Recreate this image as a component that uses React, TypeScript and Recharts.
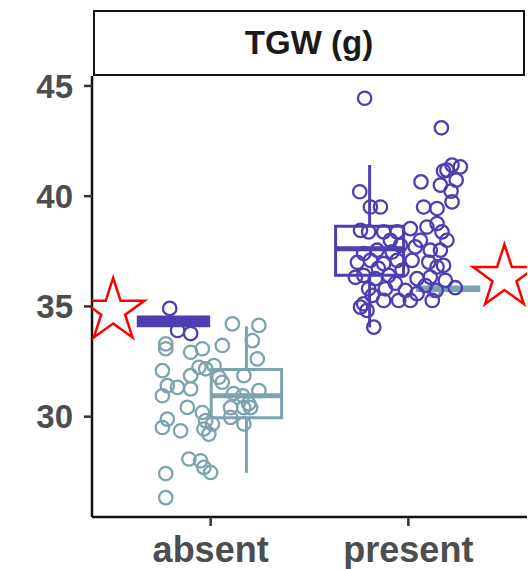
import React from 'react';
import {
  ComposedChart,
  Scatter,
  XAxis,
  YAxis,
  ReferenceArea,
  ReferenceLine,
} from 'recharts';

// categories + value ranges
const categories = ['absent', 'present'];
const yTicks = [30, 35, 40, 45];
const stripTitle = 'TGW (g)';

const PURPLE = '#4D3EB2';
const TEAL = '#7DA3AF';

// box stats: group position, half width, min, q1, median, q3, max
const purpleBoxes = [
  { x: 0.812, half: 0.178, min: 34.1, q1: 34.12, median: 34.3, q3: 34.52, max: 34.52 },
  { x: 1.804, half: 0.172, min: 34.05, q1: 36.41, median: 37.62, q3: 38.64, max: 41.41 },
];
const tealBoxes = [
  { x: 1.181, half: 0.178, min: 27.45, q1: 29.95, median: 30.95, q3: 32.14, max: 34.1 },
  { x: 2.201, half: 0.155, min: 35.72, q1: 35.72, median: 35.8, q3: 35.88, max: 35.88 },
];

// jittered observations
const tealPoints = [
  { x: 1.110, y: 34.21 }, { x: 1.244, y: 34.14 }, { x: 1.211, y: 33.45 }, { x: 0.773, y: 33.30 },
  { x: 0.773, y: 33.08 }, { x: 0.899, y: 32.92 }, { x: 0.958, y: 33.08 }, { x: 1.059, y: 33.23 },
  { x: 1.236, y: 32.62 }, { x: 0.756, y: 32.09 }, { x: 0.941, y: 32.24 }, { x: 0.975, y: 32.17 },
  { x: 1.017, y: 32.32 }, { x: 0.899, y: 31.86 }, { x: 1.042, y: 31.79 }, { x: 0.781, y: 31.41 },
  { x: 0.832, y: 31.33 }, { x: 0.899, y: 31.26 }, { x: 0.756, y: 30.95 }, { x: 1.059, y: 31.56 },
  { x: 1.168, y: 31.86 }, { x: 1.244, y: 31.18 }, { x: 1.116, y: 31.05 }, { x: 1.162, y: 30.95 },
  { x: 1.192, y: 30.59 }, { x: 1.101, y: 30.41 }, { x: 1.167, y: 30.41 }, { x: 1.202, y: 30.41 },
  { x: 0.882, y: 30.42 }, { x: 0.958, y: 30.19 }, { x: 0.781, y: 29.89 }, { x: 0.756, y: 29.51 },
  { x: 0.848, y: 29.36 }, { x: 0.975, y: 29.82 }, { x: 0.966, y: 29.44 }, { x: 0.991, y: 29.21 },
  { x: 1.009, y: 29.67 }, { x: 1.101, y: 29.97 }, { x: 1.168, y: 29.67 }, { x: 0.890, y: 28.08 },
  { x: 0.949, y: 28.00 }, { x: 0.966, y: 27.70 }, { x: 1.000, y: 27.47 }, { x: 0.773, y: 27.42 },
  { x: 0.773, y: 26.33 }, { x: 2.128, y: 35.73 },
];

const purplePoints = [
  { x: 0.793, y: 34.91 }, { x: 0.833, y: 33.91 }, { x: 0.899, y: 33.77 },
  { x: 1.779, y: 44.44 }, { x: 2.167, y: 43.10 }, { x: 2.221, y: 41.41 }, { x: 2.263, y: 41.33 },
  { x: 2.195, y: 41.18 }, { x: 2.178, y: 41.14 }, { x: 2.242, y: 40.73 }, { x: 2.162, y: 40.50 },
  { x: 2.216, y: 40.23 }, { x: 2.221, y: 39.74 }, { x: 2.064, y: 40.65 }, { x: 1.754, y: 40.20 },
  { x: 1.808, y: 39.51 }, { x: 1.859, y: 39.51 }, { x: 2.077, y: 39.51 }, { x: 2.145, y: 39.44 },
  { x: 1.758, y: 38.45 }, { x: 1.799, y: 38.38 }, { x: 1.875, y: 38.38 }, { x: 1.943, y: 38.38 },
  { x: 2.010, y: 38.53 }, { x: 2.094, y: 38.60 }, { x: 2.145, y: 38.76 }, { x: 2.170, y: 38.38 },
  { x: 2.195, y: 38.00 }, { x: 2.061, y: 38.00 }, { x: 2.035, y: 37.70 }, { x: 2.111, y: 37.55 },
  { x: 2.162, y: 37.55 }, { x: 1.842, y: 37.55 }, { x: 1.918, y: 37.47 }, { x: 1.774, y: 37.40 },
  { x: 1.808, y: 37.09 }, { x: 1.875, y: 36.94 }, { x: 1.943, y: 37.09 }, { x: 2.019, y: 37.09 },
  { x: 2.103, y: 37.01 }, { x: 2.178, y: 36.86 }, { x: 2.145, y: 36.79 }, { x: 1.774, y: 36.41 },
  { x: 1.833, y: 36.26 }, { x: 1.901, y: 36.41 }, { x: 1.968, y: 36.64 }, { x: 2.044, y: 36.26 },
  { x: 2.111, y: 36.33 }, { x: 1.799, y: 35.80 }, { x: 1.884, y: 35.80 }, { x: 1.985, y: 35.73 },
  { x: 2.044, y: 35.58 }, { x: 1.774, y: 35.12 }, { x: 1.875, y: 35.27 }, { x: 1.951, y: 35.27 },
  { x: 2.010, y: 35.27 }, { x: 1.758, y: 34.97 }, { x: 1.791, y: 34.82 }, { x: 1.825, y: 34.06 },
  { x: 2.237, y: 35.85 }, { x: 1.909, y: 38.00 }, { x: 1.960, y: 37.77 }, { x: 1.848, y: 36.73 },
  { x: 1.934, y: 36.05 }, { x: 2.086, y: 35.95 }, { x: 1.742, y: 37.00 }, { x: 1.818, y: 35.50 },
  { x: 2.121, y: 35.27 }, { x: 2.187, y: 36.18 }, { x: 2.141, y: 35.73 }, { x: 1.732, y: 36.32 },
];

// red star markers
const stars = [
  { x: 0.507, y: 34.8 },
  { x: 2.486, y: 36.32 },
];

const Ring = (color: string) => (props: any) => (
  <circle cx={props.cx} cy={props.cy} r={6.7} fill="none" stroke={color} strokeWidth={2.3} />
);

const Star = (props: any) => {
  const { cx, cy } = props;
  const R = 33;
  const r = R * 0.382;
  const pts: string[] = [];
  for (let i = 0; i < 10; i++) {
    const rad = i % 2 === 0 ? R : r;
    const a = -Math.PI / 2 + (i * Math.PI) / 5;
    pts.push(`${cx + rad * Math.cos(a)},${cy + rad * Math.sin(a)}`);
  }
  return <polygon points={pts.join(' ')} fill="none" stroke="#FF0000" strokeWidth={2.5} />;
};

function boxParts(boxes: typeof purpleBoxes, color: string, key: string) {
  const out: React.ReactNode[] = [];
  boxes.forEach((b, i) => {
    const collapsed = b.q3 - b.q1 < 0.5;
    out.push(
      <ReferenceLine
        key={`${key}-wu${i}`}
        segment={[{ x: b.x, y: b.q3 }, { x: b.x, y: b.max }]}
        stroke={color}
        strokeWidth={3}
      />,
      <ReferenceLine
        key={`${key}-wl${i}`}
        segment={[{ x: b.x, y: b.min }, { x: b.x, y: b.q1 }]}
        stroke={color}
        strokeWidth={3}
      />,
      <ReferenceArea
        key={`${key}-box${i}`}
        x1={b.x - b.half}
        x2={b.x + b.half}
        y1={b.q1}
        y2={b.q3}
        fill={collapsed ? color : 'none'}
        fillOpacity={1}
        stroke={color}
        strokeWidth={3}
      />,
      <ReferenceLine
        key={`${key}-med${i}`}
        segment={[{ x: b.x - b.half, y: b.median }, { x: b.x + b.half, y: b.median }]}
        stroke={color}
        strokeWidth={5}
      />
    );
  });
  return out;
}

export default function App() {
  return (
    <div style={{ position: 'absolute', left: 0, top: 0, width: 528, height: 569, background: '#fff' }}>
      <div
        style={{
          position: 'absolute',
          left: 93,
          top: 10,
          width: 432,
          height: 66,
          boxSizing: 'border-box',
          border: '2.5px solid #111',
          display: 'flex',
          alignItems: 'center',
          justifyContent: 'center',
          fontFamily: '"Liberation Sans", Arial, sans-serif',
          fontWeight: 'bold',
          fontSize: 33,
          color: '#1a1a1a',
          background: '#fff',
        }}
      >
        {stripTitle}
      </div>
      <ComposedChart
        width={528}
        height={569}
        margin={{ top: 76, right: 1, bottom: 0, left: 0 }}
        style={{ position: 'absolute', left: 0, top: 0 }}
      >
        <XAxis
          type="number"
          dataKey="x"
          domain={[0.4, 2.6]}
          ticks={[1, 2]}
          allowDataOverflow
          tickFormatter={(v: number) => categories[Math.round(v) - 1]}
          height={52}
          tickSize={9}
          tickMargin={10}
          axisLine={{ stroke: '#111', strokeWidth: 2.5 }}
          tickLine={{ stroke: '#333', strokeWidth: 2.5 }}
          tick={{ fill: '#4D4D4D', fontSize: 36, fontWeight: 'bold', fontFamily: '"Liberation Sans", Arial, sans-serif' }}
        />
        <YAxis
          type="number"
          dataKey="y"
          domain={[25.45, 45.45]}
          ticks={yTicks}
          allowDataOverflow
          width={92}
          tickSize={8}
          tickMargin={11}
          axisLine={{ stroke: '#111', strokeWidth: 2.5 }}
          tickLine={{ stroke: '#333', strokeWidth: 2.5 }}
          tick={{ fill: '#4D4D4D', fontSize: 33, fontWeight: 'bold', fontFamily: '"Liberation Sans", Arial, sans-serif' }}
        />
        {boxParts(tealBoxes, TEAL, 'teal')}
        {boxParts(purpleBoxes, PURPLE, 'purple')}
        <Scatter data={tealPoints} shape={Ring(TEAL)} isAnimationActive={false} />
        <Scatter data={purplePoints} shape={Ring(PURPLE)} isAnimationActive={false} />
        <Scatter data={stars} shape={Star} isAnimationActive={false} />
      </ComposedChart>
    </div>
  );
}
